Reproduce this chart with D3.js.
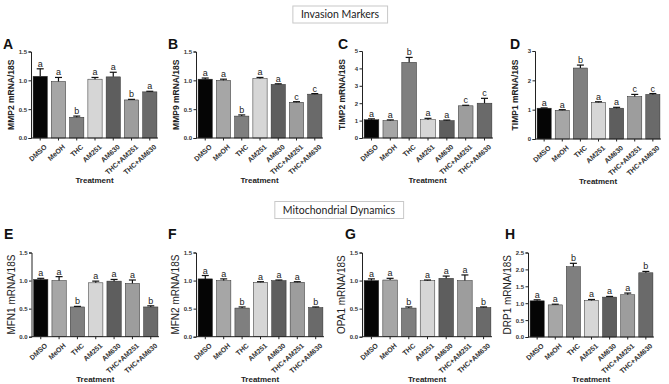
<!DOCTYPE html>
<html>
<head>
<meta charset="utf-8">
<script src="https://cdn.jsdelivr.net/npm/d3@7"></script>
<style>
  body { margin: 0; background: #fff; }
  svg { font-family: "Liberation Sans", Arial, sans-serif; }
</style>
</head>
<body>
<div id="chart"></div>
<script>
// treatments (same for every panel)
var treatments = ["DMSO", "MeOH", "THC", "AM251", "AM630", "THC+AM251", "THC+AM630"];
var barColors = ["#050505", "#a6a6a6", "#7f7f7f", "#d6d6d6", "#5e5e5e", "#9d9d9d", "#6a6a6a"];

// A - MMP2
var mmp2 = [1.07, 0.98, 0.36, 1.02, 1.06, 0.66, 0.80];
var mmp2Err = [0.13, 0.07, 0.02, 0.03, 0.08, 0.01, 0.01];
var mmp2Sig = ["a", "a", "b", "a", "a", "b", "a"];
// B - MMP9
var mmp9 = [1.02, 1.00, 0.38, 1.03, 0.93, 0.62, 0.76];
var mmp9Err = [0.02, 0.02, 0.02, 0.02, 0.01, 0.01, 0.01];
var mmp9Sig = ["a", "a", "b", "a", "a", "c", "c"];
// C - TIMP2
var timp2 = [1.05, 1.00, 4.35, 1.05, 1.00, 1.85, 2.00];
var timp2Err = [0.05, 0.04, 0.28, 0.08, 0.03, 0.03, 0.28];
var timp2Sig = ["a", "a", "b", "a", "a", "c", "c"];
// D - TIMP1
var timp1 = [1.05, 0.98, 2.42, 1.25, 1.05, 1.45, 1.52];
var timp1Err = [0.01, 0.02, 0.10, 0.02, 0.03, 0.07, 0.03];
var timp1Sig = ["a", "a", "b", "a", "a", "c", "c"];
// E - MFN1
var mfn1 = [1.02, 1.00, 0.53, 0.96, 0.99, 0.95, 0.53];
var mfn1Err = [0.02, 0.07, 0.01, 0.03, 0.03, 0.06, 0.02];
var mfn1Sig = ["a", "a", "b", "a", "a", "a", "b"];
// F - MFN2
var mfn2 = [1.03, 1.00, 0.51, 0.97, 1.00, 0.97, 0.52];
var mfn2Err = [0.06, 0.03, 0.02, 0.01, 0.01, 0.01, 0.01];
var mfn2Sig = ["a", "a", "b", "a", "a", "a", "b"];
// G - OPA1
var opa1 = [1.00, 1.01, 0.51, 1.00, 1.04, 1.00, 0.52];
var opa1Err = [0.03, 0.03, 0.02, 0.01, 0.04, 0.10, 0.01];
var opa1Sig = ["a", "a", "b", "a", "a", "a", "b"];
// H - DRP1
var drp1 = [1.07, 0.95, 2.08, 1.08, 1.18, 1.25, 1.90];
var drp1Err = [0.03, 0.02, 0.10, 0.03, 0.02, 0.05, 0.04];
var drp1Sig = ["a", "a", "b", "a", "a", "a", "b"];

// tick labels
var ticks15 = [0, 0.5, 1.0, 1.5];
var ticks5 = [0, 1, 2, 3, 4, 5];
var ticks3 = [0, 1, 2, 3];
var ticks25 = [0, 0.5, 1.0, 1.5, 2.0, 2.5];

var width = 669, height = 384;
var svg = d3.select("#chart").append("svg")
    .attr("width", width)
    .attr("height", height);

// section titles
function titleBox(text, cx, cy) {
    var g = svg.append("g");
    var t = g.append("text")
        .attr("x", cx).attr("y", cy + 3.5)
        .attr("text-anchor", "middle")
        .style("font-family", "Lato, 'Open Sans', sans-serif")
        .style("font-size", "10.5px")
        .attr("fill", "#222")
        .text(text);
    var bb = t.node().getBBox();
    g.insert("rect", "text")
        .attr("x", bb.x - 8).attr("y", cy - 8.5)
        .attr("width", bb.width + 16).attr("height", 17)
        .attr("fill", "#fff").attr("stroke", "#c8c8c8").attr("stroke-width", 1);
}
titleBox("Invasion Markers", 340, 14.5);
titleBox("Mitochondrial Dynamics", 339, 210);

var panels = [
    {id: "A", label: "MMP2 mRNA/18S", v: mmp2, e: mmp2Err, s: mmp2Sig, max: 1.5, ticks: ticks15, fmt: ".1f", x0: 31, x1: 158, top: 51.5, bot: 138, lx: 3, big: false},
    {id: "B", label: "MMP9 mRNA/18S", v: mmp9, e: mmp9Err, s: mmp9Sig, max: 1.5, ticks: ticks15, fmt: ".1f", x0: 196, x1: 323, top: 51.5, bot: 138, lx: 168, big: false},
    {id: "C", label: "TIMP2 mRNA/18S", v: timp2, e: timp2Err, s: timp2Sig, max: 5, ticks: ticks5, fmt: "d", x0: 362, x1: 493, top: 51, bot: 138, lx: 338, big: false},
    {id: "D", label: "TIMP1 mRNA/18S", v: timp1, e: timp1Err, s: timp1Sig, max: 3, ticks: ticks3, fmt: "d", x0: 535, x1: 661, top: 51, bot: 139, lx: 510, big: false},
    {id: "E", label: "MFN1 mRNA/18S", v: mfn1, e: mfn1Err, s: mfn1Sig, max: 1.5, ticks: ticks15, fmt: ".1f", x0: 31.5, x1: 159, top: 252.5, bot: 336.7, lx: 4, big: true},
    {id: "F", label: "MFN2 mRNA/18S", v: mfn2, e: mfn2Err, s: mfn2Sig, max: 1.5, ticks: ticks15, fmt: ".1f", x0: 196, x1: 324, top: 252.5, bot: 336.7, lx: 168, big: true},
    {id: "G", label: "OPA1 mRNA/18S", v: opa1, e: opa1Err, s: opa1Sig, max: 1.5, ticks: ticks15, fmt: ".1f", x0: 362, x1: 492, top: 252.5, bot: 336.7, lx: 345, big: true},
    {id: "H", label: "DRP1 mRNA/18S", v: drp1, e: drp1Err, s: drp1Sig, max: 2.5, ticks: ticks25, fmt: ".1f", x0: 528, x1: 654, top: 252.5, bot: 337, lx: 505, big: true}
];

panels.forEach(function(p) {
    var g = svg.append("g");

    var x = d3.scaleBand()
        .domain(treatments)
        .range([p.x0 + 1, p.x1])
        .paddingInner(0.22)
        .paddingOuter(0.06);

    var y = d3.scaleLinear()
        .domain([0, p.max])
        .range([p.bot, p.top]);

    var rows = treatments.map(function(t, i) {
        return {t: t, v: p.v[i], e: p.e[i], s: p.s[i], c: barColors[i]};
    });

    // bars
    g.selectAll(".bar")
        .data(rows)
        .enter().append("rect")
        .attr("x", function(d) { return x(d.t); })
        .attr("y", function(d) { return y(d.v); })
        .attr("width", x.bandwidth())
        .attr("height", function(d) { return y(0) - y(d.v); })
        .attr("fill", function(d) { return d.c; })
        .attr("stroke", "#2a2a2a")
        .attr("stroke-width", 0.5);

    // error bars (upper only)
    var eb = g.selectAll(".err")
        .data(rows)
        .enter().append("g")
        .attr("stroke", "#111")
        .attr("stroke-width", 1.2);
    eb.append("line")
        .attr("x1", function(d) { return x(d.t) + x.bandwidth() / 2; })
        .attr("x2", function(d) { return x(d.t) + x.bandwidth() / 2; })
        .attr("y1", function(d) { return y(d.v); })
        .attr("y2", function(d) { return y(d.v + d.e); });
    eb.append("line")
        .attr("x1", function(d) { return x(d.t) + x.bandwidth() / 2 - 3.5; })
        .attr("x2", function(d) { return x(d.t) + x.bandwidth() / 2 + 3.5; })
        .attr("y1", function(d) { return y(d.v + d.e); })
        .attr("y2", function(d) { return y(d.v + d.e); });

    // significance letters
    g.selectAll(".sig")
        .data(rows)
        .enter().append("text")
        .attr("x", function(d) { return x(d.t) + x.bandwidth() / 2; })
        .attr("y", function(d) { return y(d.v + d.e) - 2; })
        .attr("text-anchor", "middle")
        .style("font-size", "9px")
        .attr("fill", "#222")
        .text(function(d) { return d.s; });

    // y axis
    var yAxis = g.append("g")
        .attr("transform", "translate(" + p.x0 + ",0)")
        .call(d3.axisLeft(y).tickValues(p.ticks).tickFormat(d3.format(p.fmt)).tickSize(2.5).tickPadding(1.5));
    yAxis.selectAll("text")
        .style("font-family", "'Liberation Sans', sans-serif")
        .style("font-size", "6px").style("font-weight", "bold").attr("fill", "#333");

    // x axis
    var xAxis = g.append("g")
        .attr("transform", "translate(0," + p.bot + ")")
        .call(d3.axisBottom(x).tickSize(2.5).tickSizeOuter(0));
    xAxis.select(".domain").attr("d", "M" + p.x0 + ",0H" + p.x1);
    xAxis.selectAll("text")
        .style("font-family", "'Liberation Sans', sans-serif")
        .style("font-size", "7px")
        .style("font-weight", "bold")
        .attr("fill", "#333")
        .attr("text-anchor", "end")
        .attr("dy", "0.3em")
        .attr("transform", "translate(2,4) rotate(-42)");
    g.selectAll(".domain, .tick line").attr("stroke", "#222").attr("stroke-width", 1);

    // y label
    g.append("text")
        .attr("transform", "translate(" + (p.x0 - 17) + "," + ((p.top + p.bot) / 2) + ") rotate(-90)")
        .attr("text-anchor", "middle")
        .style("font-size", p.big ? "10px" : "8.5px")
        .style("font-weight", p.big ? "normal" : "bold")
        .attr("fill", "#222")
        .text(p.label);

    // x label
    g.append("text")
        .attr("x", (p.x0 + p.x1) / 2)
        .attr("y", p.bot + 45)
        .attr("text-anchor", "middle")
        .style("font-size", "8px")
        .style("font-weight", "bold")
        .attr("fill", "#222")
        .text("Treatment");

    // panel letter
    g.append("text")
        .attr("x", p.lx)
        .attr("y", p.top - 2.5 - (p.big ? 11 : 0))
        .style("font-size", "14px")
        .style("font-weight", "bold")
        .attr("fill", "#111")
        .text(p.id);
});
</script>
</body>
</html>
